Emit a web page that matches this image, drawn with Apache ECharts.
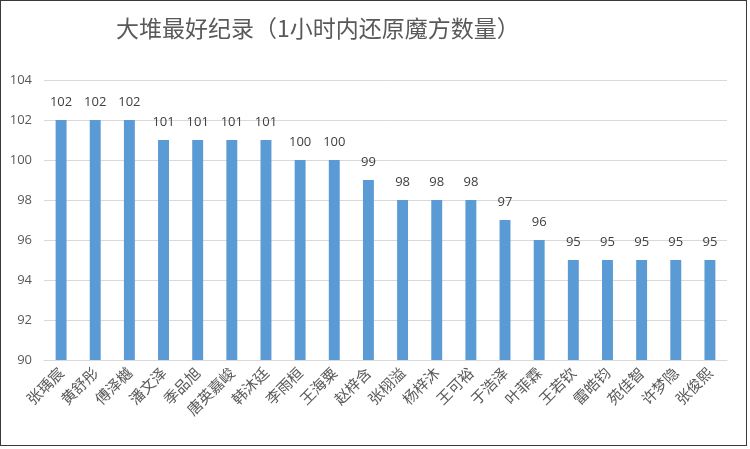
<!DOCTYPE html>
<html><head><meta charset="utf-8">
<script src="https://cdn.jsdelivr.net/npm/echarts@6/dist/echarts.min.js"></script>
<style>
html,body{margin:0;padding:0;background:#fff;}
#c{width:750px;height:449px;}
#frame{position:absolute;left:0;top:0;width:745px;height:444px;border:1.5px solid #3a3a3a;pointer-events:none;}
</style></head>
<body>
<div id="c"></div><div id="frame"></div>
<script>
const titleText = '大堆最好纪录（1小时内还原魔方数量）';
const categories = ['张瑀宸','黄舒彤','傅泽樾','潘文泽','季品旭','唐英嘉峻','韩沐廷','李雨桓','王海粟','赵梓含','张栩溢','杨梓沐','王可裕','于浩泽','叶菲霖','王若钦','雷皓钧','苑佳智','许梦隐','张俊熙'];
const values = [102,102,102,101,101,101,101,100,100,99,98,98,98,97,96,95,95,95,95,95];
const yMin = 90, yMax = 104, yStep = 2;

const chart = echarts.init(document.getElementById('c'));
chart.setOption({
  animation:false,
  title:{text:titleText,left:111,top:12,textStyle:{fontSize:23,fontWeight:'normal',color:'#595959',fontFamily:'"Noto Sans CJK SC", sans-serif'}},
  grid:{left:44,right:23,top:80,bottom:89,containLabel:false},
  xAxis:{type:'category',data:categories,
    axisLine:{lineStyle:{color:'#d9d9d9'}},axisTick:{show:false},
    axisLabel:{rotate:45,interval:0,color:'#595959',fontSize:15,margin:10,fontFamily:'"Noto Sans CJK SC", sans-serif'}},
  yAxis:{type:'value',min:yMin,max:yMax,interval:yStep,
    axisLine:{show:false},axisTick:{show:false},
    splitLine:{lineStyle:{color:'#d9d9d9',width:1}},
    axisLabel:{color:'#595959',fontSize:13,margin:12,fontFamily:'"Open Sans", sans-serif'}},
  series:[{type:'bar',data:values,barWidth:'32%',
    itemStyle:{color:'#5b9bd5'},
    label:{show:true,position:'top',distance:11,color:'#404040',fontSize:13,fontFamily:'"Open Sans", sans-serif'}}]
});
</script>
</body></html>
